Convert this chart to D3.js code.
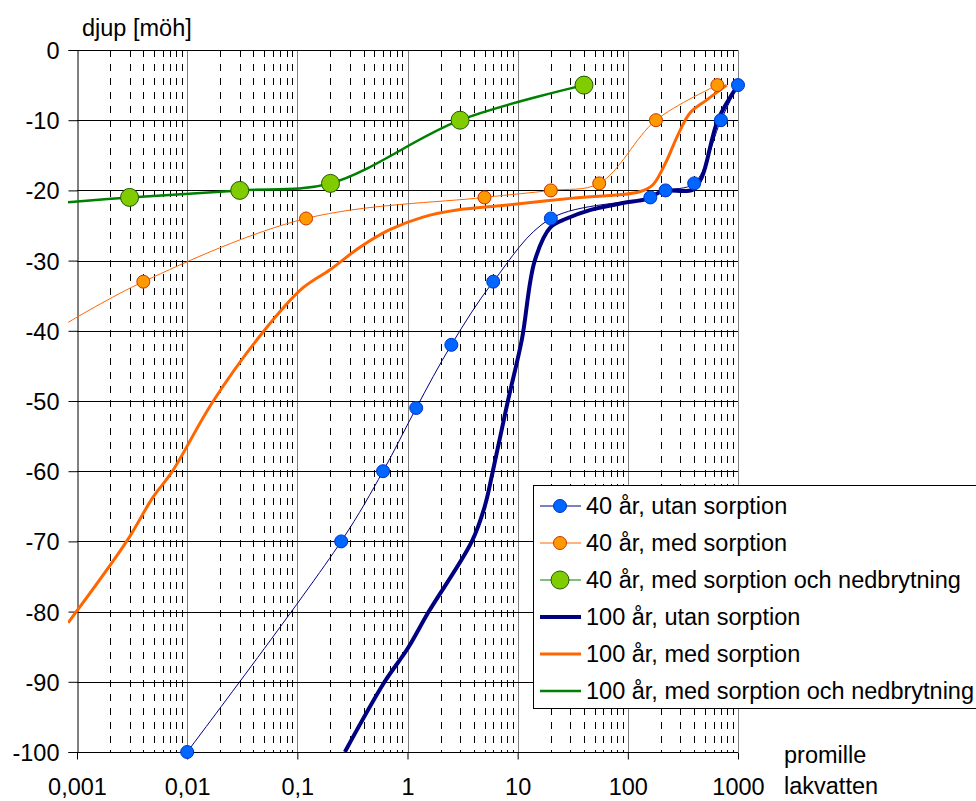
<!DOCTYPE html>
<meta charset="utf-8">
<style>
	body { margin: 0; background: #fff; }
	svg { display: block; }
	text { font-family: "Liberation Sans", Arial, sans-serif; fill: #000; }
	.tick text { font-size: 23.5px; }
	.legend text { font-size: 23.5px; }
</style>
<body>
<svg id="svg"></svg>
<script src="https://cdn.jsdelivr.net/npm/d3@7"></script>
<script>

// DATA
var xTicks = [0.001, 0.01, 0.1, 1, 10, 100, 1000]
var xTickLabels = ["0,001", "0,01", "0,1", "1", "10", "100", "1000"]
var yTicks = [0, -10, -20, -30, -40, -50, -60, -70, -80, -90, -100]

var seriesNames = [
	"40 år, utan sorption",
	"40 år, med sorption",
	"40 år, med sorption och nedbrytning",
	"100 år, utan sorption",
	"100 år, med sorption",
	"100 år, med sorption och nedbrytning"
]

// 40 år
var utan40X = [0.01, 0.25, 0.6, 1.2, 2.5, 6, 20, 160, 220, 400, 700, 1000]
var utan40Y = [-100, -70, -60, -51, -42, -33, -24, -21, -20, -19, -10, -5]

var med40X = [0.00083, 0.004, 0.12, 5, 20, 55, 180, 650]
var med40Y = [-38.8, -33, -24, -21, -20, -19, -10, -5]

var ned40X = [0.00083, 0.003, 0.03, 0.2, 3, 40]
var ned40Y = [-21.7, -21, -20, -19, -10, -5]

// 100 år
var utan100X = [0.27, 0.62, 1.0, 1.56, 3.84, 5.03, 5.95, 8.15, 10.9, 14.3, 20, 27.9, 45.2, 90, 149, 208, 389, 470, 656, 1000]
var utan100Y = [-100, -90, -85.3, -80, -70, -65, -60, -50, -41.3, -30, -25.2, -24, -22.8, -21.8, -21.2, -20.1, -19.9, -18.1, -10, -5]

var med100X = [0.00083, 0.00282, 0.0049, 0.00728, 0.0171, 0.0487, 0.112, 0.198, 0.37, 0.69, 1.38, 2.81, 6.9, 31.7, 128, 169, 226, 279, 365, 521, 790]
var med100Y = [-81.6, -70, -63.7, -60.1, -50.1, -40.2, -33.9, -31.3, -28.1, -25.6, -23.8, -22.8, -22.2, -21.1, -20.2, -19.2, -15.7, -12.4, -9, -7.1, -5]

var ned100X = [0.00083, 0.003, 0.03, 0.2, 3, 40]
var ned100Y = [-21.7, -21, -20, -19, -10, -5]

// CANVAS
var width = 976
var height = 801

var svg = d3.select( '#svg' )
	.attr( 'width', width )
	.attr( 'height', height )

var x = d3.scaleLog().domain([ 0.001, 1000 ]).range([ 77, 738 ])
var y = d3.scaleLinear().domain([ 0, -100 ]).range([ 50, 752 ])

var zip = ( xs, ys )=> xs.map(( v, i )=> ({ x: v, y: ys[ i ] }))

var series = [
	{ pts: zip( utan40X, utan40Y ), color: '#000080', w: 1, marker: { fill: '#0066ff', stroke: '#0033cc', r: 6.5 }},
	{ pts: zip( med40X, med40Y ), color: '#ff6600', w: 1, marker: { fill: '#ff9900', stroke: '#cc3300', r: 6.5 }},
	{ pts: zip( ned40X, ned40Y ), color: '#008000', w: 1, marker: { fill: '#80cc00', stroke: '#1f5a00', r: 9 }},
	{ pts: zip( utan100X, utan100Y ), color: '#000080', w: 4, marker: null },
	{ pts: zip( med100X, med100Y ), color: '#ff6600', w: 3, marker: null },
	{ pts: zip( ned100X, ned100Y ), color: '#008000', w: 2.5, marker: null }
]

// GRID
var grid = svg.append( 'g' )

// minor (dashed) verticals
var minors = []
xTicks.slice( 0, -1 ).forEach( d => {
	for( var k = 2; k <= 9; k++ ) minors.push( d * k )
})
grid.selectAll( 'line.minor' )
	.data( minors )
	.enter()
	.append( 'line' )
		.attr( 'x1', d => Math.round( x( d )) + 0.5 )
		.attr( 'x2', d => Math.round( x( d )) + 0.5 )
		.attr( 'y1', y( 0 ) )
		.attr( 'y2', y( -100 ) )
		.attr( 'stroke', '#000' )
		.attr( 'stroke-dasharray', '7,7' )

// major verticals
grid.selectAll( 'line.major' )
	.data( xTicks.slice( 1 ))
	.enter()
	.append( 'line' )
		.attr( 'x1', d => Math.round( x( d )) + 0.5 )
		.attr( 'x2', d => Math.round( x( d )) + 0.5 )
		.attr( 'y1', y( 0 ) )
		.attr( 'y2', y( -100 ) )
		.attr( 'stroke', '#808080' )

// horizontals
grid.selectAll( 'line.h' )
	.data( yTicks.slice( 0, -1 ))
	.enter()
	.append( 'line' )
		.attr( 'x1', 77 )
		.attr( 'x2', 738 )
		.attr( 'y1', d => Math.round( y( d )) + 0.5 )
		.attr( 'y2', d => Math.round( y( d )) + 0.5 )
		.attr( 'stroke', '#000' )

// AXES
var yAxis = svg.append( 'g' )
	.attr( 'class', 'axis' )
	.attr( 'transform', 'translate(77.5,0)' )
	.call( d3.axisLeft( y ).tickValues( yTicks ).tickSize( 9 ).tickPadding( 9 )
		.tickFormat( d => d ))
yAxis.selectAll( 'line, path' ).attr( 'stroke', '#000' )
yAxis.selectAll( 'text' ).attr( 'dy', '0.36em' )

var xAxis = svg.append( 'g' )
	.attr( 'class', 'axis' )
	.attr( 'transform', 'translate(0,752.5)' )
	.call( d3.axisBottom( x ).tickValues( xTicks ).tickSize( 7 ).tickPadding( 19 )
		.tickFormat(( d, i )=> xTickLabels[ i ] ))
xAxis.selectAll( 'line, path' ).attr( 'stroke', '#000' )
xAxis.select( '.domain' ).attr( 'd', 'M77,0H738' )

// right border
svg.append( 'line' )
	.attr( 'x1', 738.5 ).attr( 'x2', 738.5 )
	.attr( 'y1', y( 0 ) ).attr( 'y2', y( -100 ) + 0.5 )
	.attr( 'stroke', '#808080' )

// SERIES
svg.append( 'clipPath' ).attr( 'id', 'plotclip' )
	.append( 'rect' )
		.attr( 'x', 68 ).attr( 'y', 0 )
		.attr( 'width', width ).attr( 'height', height )

var line = d3.line()
	.x( d => x( d.x ))
	.y( d => y( d.y ))
	.curve( d3.curveCatmullRom.alpha( 0.5 ))

var lines = svg.append( 'g' ).attr( 'clip-path', 'url(#plotclip)' )
lines.selectAll( 'path' )
	.data( series )
	.enter()
	.append( 'path' )
		.attr( 'd', s => line( s.pts ))
		.attr( 'fill', 'none' )
		.attr( 'stroke', s => s.color )
		.attr( 'stroke-width', s => s.w )
		.attr( 'stroke-linejoin', 'round' )

var markers = svg.append( 'g' )
series.filter( s => s.marker ).forEach( s => {
	markers.selectAll( null )
		.data( s.pts.filter( p => p.x >= 0.001 ))
		.enter()
		.append( 'circle' )
			.attr( 'cx', d => x( d.x ))
			.attr( 'cy', d => y( d.y ))
			.attr( 'r', s.marker.r )
			.attr( 'fill', s.marker.fill )
			.attr( 'stroke', s.marker.stroke )
			.attr( 'stroke-width', 1 )
})

// TITLES
svg.append( 'text' )
	.attr( 'x', 82 ).attr( 'y', 36 )
	.style( 'font-size', '23.5px' )
	.text( 'djup [möh]' )

svg.append( 'text' )
	.attr( 'x', 784 ).attr( 'y', 763 )
	.style( 'font-size', '23.5px' )
	.text( 'promille' )

svg.append( 'text' )
	.attr( 'x', 784 ).attr( 'y', 794 )
	.style( 'font-size', '23.5px' )
	.text( 'lakvatten' )

// LEGEND
var legend = svg.append( 'g' ).attr( 'class', 'legend' )
legend.append( 'rect' )
	.attr( 'x', 533.5 ).attr( 'y', 485.5 )
	.attr( 'width', 460 ).attr( 'height', 223 )
	.attr( 'fill', '#fff' )
	.attr( 'stroke', '#000' )

var items = legend.selectAll( 'g' )
	.data( series )
	.enter()
	.append( 'g' )
		.attr( 'transform', ( d, i )=> 'translate(0,' + ( 506 + i * 37 ) + ')' )

items.append( 'line' )
	.attr( 'x1', 540 ).attr( 'x2', 581 )
	.attr( 'stroke', s => s.color )
	.attr( 'stroke-width', s => s.w )

items.filter( s => s.marker )
	.append( 'circle' )
		.attr( 'cx', 560 )
		.attr( 'r', s => s.marker.r )
		.attr( 'fill', s => s.marker.fill )
		.attr( 'stroke', s => s.marker.stroke )

items.append( 'text' )
	.attr( 'x', 586 )
	.attr( 'dy', '0.36em' )
	.text(( d, i )=> seriesNames[ i ] )

</script>
</body>
